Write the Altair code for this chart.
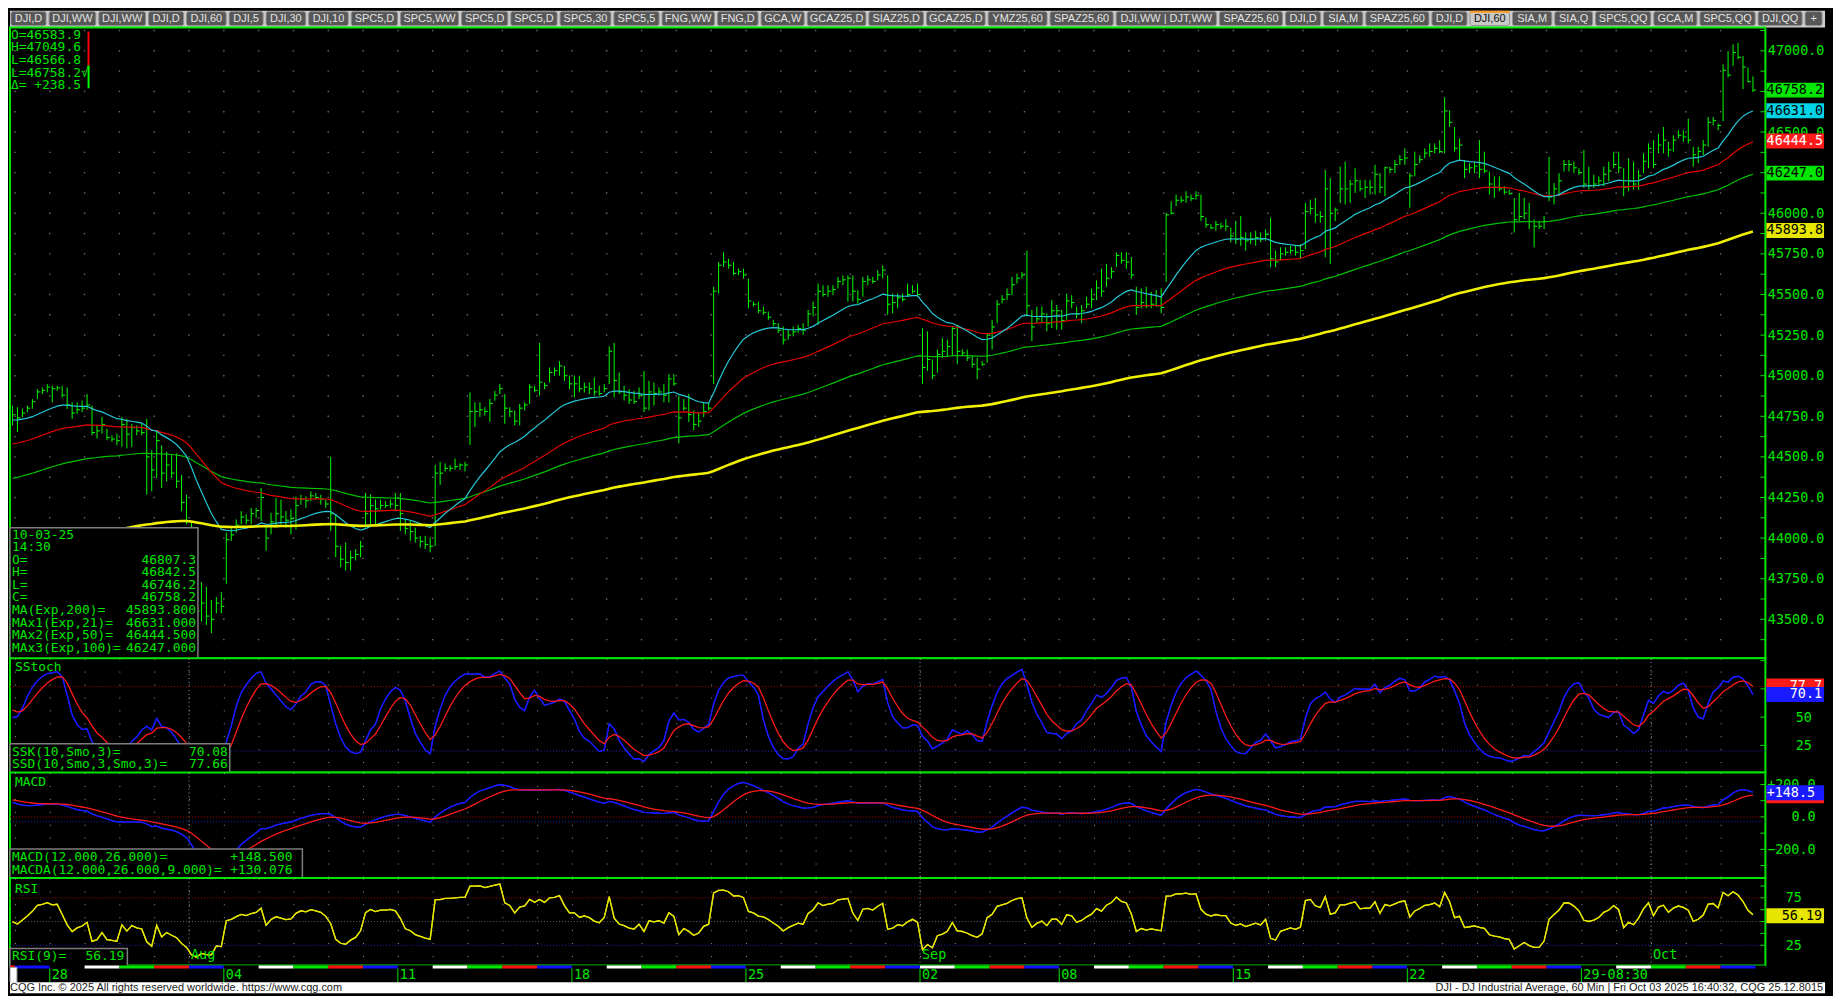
import numpy as np
import pandas as pd
import altair as alt

# ---------------- DJI 60-minute bars (bar 0 = Mon Jul 28 08:30) ----------------
FIRST_BAR = -8
H = [
 44816, 44806, 44796, 44816, 44856, 44917, 44928, 44948,
 44938, 44938, 44938, 44928, 44836, 44836, 44846,
 44887, 44816, 44694, 44745, 44674, 44633, 44643,
 44745, 44734, 44704, 44694, 44704, 44734, 44541,
 44663, 44572, 44531, 44511, 44521, 44389, 44267,
 44100, 43800, 43729, 43700, 43618, 43637, 43669,
 44034, 44064, 44115, 44166, 44146, 44186, 44186,
 44308, 44075, 44156, 44247, 44237, 44166, 44176,
 44257, 44267, 44257, 44288, 44278, 44267, 44237,
 44501, 44146, 43953, 43973, 43922, 43932, 43983,
 44278, 44268, 44237, 44237, 44227, 44237, 44278,
 44278, 44115, 44105, 44064, 44014, 44014, 44004,
 44450, 44470, 44460, 44450, 44490, 44460, 44470,
 44897, 44836, 44836, 44806, 44856, 44907, 44948,
 44887, 44806, 44785, 44826, 44836, 44948, 44938,
 45202, 44958, 45050, 45050, 45090, 45060, 45000,
 45000, 45000, 44958, 44958, 44989, 44938, 44948,
 45181, 45202, 45019, 44938, 44917, 44907, 44928,
 45029, 44968, 44958, 44928, 44948, 45009, 45009,
 44877, 44856, 44887, 44786, 44776, 44836, 44836,
 45547, 45700, 45760, 45720, 45700, 45659, 45659,
 45598, 45456, 45456, 45425, 45395, 45344, 45323,
 45303, 45283, 45303, 45313, 45323, 45405, 45456,
 45567, 45557, 45557, 45557, 45608, 45618, 45618,
 45618, 45527, 45608, 45618, 45608, 45649, 45679,
 45618, 45506, 45506, 45506, 45567, 45557, 45567,
 45293, 45273, 45100, 45161, 45232, 45222, 45303,
 45313, 45161, 45161, 45120, 45110, 45090, 45262,
 45344, 45465, 45496, 45537, 45608, 45628, 45638,
 45770, 45405, 45425, 45425, 45384, 45465, 45435,
 45405, 45506, 45496, 45425, 45435, 45486, 45536,
 45587, 45658, 45689, 45669, 45760, 45760, 45760,
 45730, 45547, 45537, 45547, 45516, 45527, 45537,
 46003, 46074, 46115, 46105, 46135, 46115, 46135,
 46115, 45973, 45932, 45953, 45942, 45963, 45912,
 45953, 45983, 45882, 45882, 45892, 45882, 45902,
 45973, 45770, 45790, 45790, 45800, 45800, 45810,
 46064, 46084, 46094, 46013, 46267, 46216, 46034,
 46287, 46318, 46206, 46277, 46206, 46206, 46206,
 46298, 46247, 46287, 46287, 46328, 46358, 46399,
 46247, 46379, 46358, 46399, 46430, 46430, 46450,
 46714, 46633, 46531, 46460, 46328, 46308, 46318,
 46450, 46379, 46257, 46227, 46227, 46166, 46145,
 46094, 46125, 46094, 46064, 45963, 45952, 45983,
 46348, 46186, 46247, 46328, 46328, 46318, 46277,
 46389, 46287, 46237, 46227, 46287, 46318, 46379,
 46379, 46277, 46338, 46318, 46267, 46369, 46430,
 46450, 46490, 46531, 46440, 46480, 46511, 46511,
 46582, 46409, 46409, 46450, 46592, 46592, 46552,
 46917, 46998, 47040, 47049.6, 46968, 46897, 46842.5,
]
L = [
 44694, 44653, 44745, 44775, 44796, 44856, 44887, 44897,
 44836, 44907, 44866, 44795, 44734, 44765, 44775,
 44790, 44633, 44613, 44643, 44603, 44593, 44572,
 44562, 44552, 44562, 44633, 44633, 44268, 44288,
 44369, 44308, 44349, 44369, 44308, 44166, 44085,
 43700, 43500, 43486, 43466, 43415, 43537, 43537,
 43719, 43983, 44034, 44085, 44085, 44085, 44125,
 44105, 43922, 44024, 44064, 44085, 44064, 44024,
 44054, 44206, 44186, 44227, 44237, 44206, 44186,
 44044, 43882, 43821, 43801, 43801, 43862, 43882,
 44064, 44085, 44075, 44176, 44186, 44186, 44166,
 44044, 44024, 43983, 43973, 43942, 43932, 43912,
 43950, 44328, 44410, 44410, 44420, 44420, 44410,
 44573, 44684, 44745, 44755, 44715, 44846, 44887,
 44704, 44745, 44694, 44694, 44785, 44826, 44897,
 44877, 44917, 44958, 45000, 45000, 44968, 44917,
 44867, 44897, 44897, 44887, 44877, 44877, 44897,
 44948, 44867, 44887, 44847, 44826, 44826, 44856,
 44776, 44786, 44816, 44877, 44836, 44836, 44938,
 44583, 44786, 44715, 44664, 44684, 44745, 44786,
 44948, 45506, 45669, 45659, 45618, 45618, 45598,
 45415, 45425, 45384, 45374, 45344, 45303, 45263,
 45192, 45222, 45242, 45263, 45252, 45303, 45364,
 45313, 45486, 45486, 45496, 45537, 45557, 45456,
 45456, 45445, 45486, 45557, 45567, 45587, 45598,
 45374, 45384, 45415, 45456, 45486, 45506, 45486,
 44948, 45029, 44978, 45019, 45110, 45120, 45120,
 45070, 45120, 45090, 45049, 44978, 45060, 45080,
 45161, 45323, 45445, 45466, 45496, 45567, 45598,
 45364, 45212, 45323, 45323, 45273, 45293, 45283,
 45283, 45344, 45415, 45354, 45323, 45415, 45415,
 45465, 45486, 45547, 45598, 45669, 45689, 45658,
 45597, 45374, 45415, 45415, 45415, 45425, 45384,
 45577, 45993, 46044, 46064, 46064, 46074, 46084,
 45953, 45912, 45902, 45892, 45902, 45892, 45821,
 45810, 45800, 45770, 45810, 45800, 45821, 45831,
 45668, 45668, 45709, 45739, 45750, 45739, 45719,
 45780, 45993, 45942, 45942, 45729, 45689, 45952,
 46064, 46054, 46064, 46125, 46135, 46094, 46115,
 46115, 46125, 46105, 46247, 46247, 46298, 46298,
 46034, 46227, 46308, 46338, 46348, 46369, 46369,
 46369, 46531, 46379, 46328, 46216, 46247, 46247,
 46216, 46247, 46115, 46094, 46135, 46115, 46115,
 45881, 45952, 45963, 45902, 45790, 45902, 45902,
 46074, 46054, 46105, 46257, 46257, 46247, 46237,
 46156, 46145, 46156, 46166, 46166, 46196, 46277,
 46247, 46105, 46135, 46145, 46145, 46247, 46277,
 46277, 46369, 46369, 46348, 46379, 46460, 46440,
 46430, 46287, 46308, 46358, 46409, 46541, 46511,
 46566.8, 46836, 46907, 46948, 46765, 46806, 46746.2,
]
C = [
 44760, 44740, 44770, 44800, 44840, 44900, 44910, 44930,
 44920, 44925, 44880, 44820, 44770, 44790, 44800,
 44820, 44650, 44660, 44700, 44620, 44610, 44600,
 44700, 44640, 44680, 44660, 44650, 44500, 44420,
 44600, 44400, 44450, 44400, 44350, 44220, 44100,
 43750, 43550, 43600, 43520, 43500, 43600, 43580,
 43990, 44020, 44080, 44130, 44110, 44150, 44170,
 44250, 44000, 44100, 44150, 44130, 44110, 44120,
 44200, 44240, 44230, 44260, 44250, 44240, 44210,
 44150, 43950, 43870, 43850, 43880, 43900, 43950,
 44150, 44200, 44180, 44200, 44200, 44210, 44200,
 44150, 44060, 44040, 44000, 43980, 43960, 43950,
 44400, 44400, 44430, 44430, 44440, 44450, 44450,
 44780, 44780, 44790, 44780, 44830, 44880, 44920,
 44800, 44780, 44720, 44800, 44820, 44930, 44910,
 44960, 44940, 45020, 45030, 45060, 45000, 44950,
 44950, 44920, 44930, 44920, 44900, 44890, 44920,
 45150, 44970, 44900, 44880, 44850, 44840, 44880,
 44800, 44900, 44890, 44900, 44880, 44980, 44950,
 44740, 44800, 44760, 44700, 44720, 44780, 44800,
 45520, 45680, 45700, 45680, 45630, 45640, 45620,
 45460, 45440, 45400, 45390, 45360, 45320, 45280,
 45220, 45250, 45270, 45290, 45280, 45380, 45420,
 45520, 45500, 45520, 45530, 45580, 45590, 45600,
 45520, 45470, 45580, 45590, 45580, 45620, 45650,
 45440, 45450, 45480, 45470, 45500, 45520, 45500,
 45050, 45100, 45000, 45130, 45150, 45180, 45290,
 45150, 45140, 45110, 45070, 45040, 45070, 45250,
 45300, 45440, 45470, 45500, 45560, 45600, 45620,
 45430, 45300, 45350, 45380, 45320, 45400, 45400,
 45340, 45460, 45450, 45380, 45400, 45440, 45470,
 45540, 45520, 45600, 45640, 45740, 45710, 45700,
 45620, 45420, 45450, 45430, 45440, 45430, 45420,
 45990, 46000, 46080, 46080, 46100, 46090, 46110,
 45980, 45930, 45910, 45930, 45920, 45920, 45860,
 45840, 45850, 45830, 45840, 45850, 45840, 45870,
 45720, 45700, 45750, 45760, 45770, 45760, 45770,
 46010, 46030, 45990, 45980, 46150, 46000, 46020,
 46150, 46150, 46180, 46200, 46150, 46160, 46160,
 46240, 46160, 46280, 46270, 46300, 46330, 46340,
 46230, 46300, 46330, 46370, 46380, 46400, 46380,
 46630, 46560, 46400, 46420, 46270, 46280, 46290,
 46270, 46260, 46180, 46160, 46150, 46130, 46120,
 45960, 45980, 46000, 45950, 45920, 45920, 45950,
 46100, 46150, 46200, 46300, 46300, 46280, 46250,
 46180, 46170, 46180, 46200, 46240, 46260, 46300,
 46280, 46160, 46200, 46180, 46230, 46320, 46400,
 46300, 46420, 46450, 46390, 46450, 46480, 46470,
 46450, 46360, 46380, 46420, 46560, 46570, 46540,
 46880, 46850, 46990, 46960, 46900, 46810, 46758.2,
]

trading_days = ["07-24", "07-25",
    "07-28", "07-29", "07-30", "07-31", "08-01",
    "08-04", "08-05", "08-06", "08-07", "08-08",
    "08-11", "08-12", "08-13", "08-14", "08-15",
    "08-18", "08-19", "08-20", "08-21", "08-22",
    "08-25", "08-26", "08-27", "08-28", "08-29",
    "09-02", "09-03", "09-04", "09-05",
    "09-08", "09-09", "09-10", "09-11", "09-12",
    "09-15", "09-16", "09-17", "09-18", "09-19",
    "09-22", "09-23", "09-24", "09-25", "09-26",
    "09-29", "09-30", "10-01", "10-02", "10-03"]
BARS_PER_DAY = 7

week_labels = ["28", "04", "11", "18", "25", "02", "08", "15", "22", "29-08:30"]
week_label_days = ["07-28", "08-04", "08-11", "08-18", "08-25", "09-02", "09-08", "09-15", "09-22", "09-29"]
month_labels = ["Aug", "Sep", "Oct"]
month_label_days = ["08-01", "09-02", "10-01"]

# starting values of the studies, read at the chart's left edge
ema_seed = {21: 44724, 50: 44572, 100: 44359, 200: 43870}
macd_seed = {12: 44790, 26: 44690, "signal": 109}
stoch_seed = {"ssk": 47, "ssd": 60}
rsi_seed = {"gain": 25, "loss": 25}

# axis labels (labels hidden behind the value tags in the original are left out)
price_labels = [43500, 43750, 44000, 44250, 44500, 44750, 45000, 45250, 45500, 45750, 46000, 46250, 46500, 46750, 47000]
stoch_labels = [25, 50]
stoch_ticks = [0, 25, 50, 75, 100]
macd_labels = [-200, 0, 200]
macd_ticks = [-300, -200, -100, 0, 100, 200]
rsi_labels = [25, 75]
rsi_ticks = [25, 37.5, 50, 62.5, 75, 87.5]

# last-value tags
price_tag_values = [46758.2, 46631.0, 46444.5, 46247.0, 45893.8]
price_tag_texts = ["46758.2", "46631.0", "46444.5", "46247.0", "45893.8"]
stoch_tag_values = [77.66, 70.08]
stoch_tag_texts = ["77.7", "70.1"]
macd_tag_values = [130.076, 148.5]
macd_tag_texts = ["", "+148.5"]
rsi_tag_values = [56.19]
rsi_tag_texts = ["56.19"]

ohlc_header = ["O=46583.9", "H=47049.6", "L=46566.8", "L=46758.2\u221a", "\u0394= +238.5"]
price_box_left = ["10-03-25", "14:30", "O=", "H=", "L=", "C=", "MA(Exp,200)=", "MAx1(Exp,21)=", "MAx2(Exp,50)=", "MAx3(Exp,100)="]
price_box_right = ["46807.3", "46842.5", "46746.2", "46758.2", "45893.800", "46631.000", "46444.500", "46247.000"]
stoch_box_left = ["SSK(10,Smo,3)=", "SSD(10,Smo,3,Smo,3)="]
stoch_box_right = ["70.08", "77.66"]
macd_box_left = ["MACD(12.000,26.000)=", "MACDA(12.000,26.000,9.000)="]
macd_box_right = ["+148.500", "+130.076"]
rsi_box_left = ["RSI(9)="]
rsi_box_right = ["56.19"]

tab_labels = ["DJI,D", "DJI,WW", "DJI,WW", "DJI,D", "DJI,60", "DJI,5", "DJI,30", "DJI,10", "SPC5,D", "SPC5,WW",
              "SPC5,D", "SPC5,D", "SPC5,30", "SPC5,5", "FNG,WW", "FNG,D", "GCA,W", "GCAZ25,D", "SIAZ25,D", "GCAZ25,D",
              "YMZ25,60", "SPAZ25,60", "DJI,WW  |  DJT,WW", "SPAZ25,60", "DJI,D", "SIA,M", "SPAZ25,60", "DJI,D", "DJI,60",
              "SIA,M", "SIA,Q", "SPC5,QQ", "GCA,M", "SPC5,QQ", "DJI,QQ", "+"]
selected_tab = 28
footer_left = "CQG Inc. \u00a9 2025 All rights reserved worldwide. https://www.cqg.com"
footer_right = "DJI - DJ Industrial Average, 60 Min | Fri Oct 03 2025 16:40:32, CQG 25.12.8015"

# ---------------- studies ----------------
def ema(vals, period, seed):
    a = 2.0 / (period + 1.0)
    out, p = [], float(seed)
    for v in vals:
        p += a * (v - p)
        out.append(p)
    return np.array(out)

def smo(vals, period, seed):
    a = 1.0 / period
    out, p = [], float(seed)
    for v in vals:
        p += a * (v - p)
        out.append(p)
    return np.array(out)

n = len(C)
assert len(H) == n and len(L) == n
cs = np.array(C, dtype=float)
bars = pd.DataFrame({"i": np.arange(FIRST_BAR, FIRST_BAR + n), "H": H, "L": L, "C": C})
bars["i2"] = bars["i"] + 0.6
for p in (21, 50, 100, 200):
    bars[f"ma{p}"] = ema(cs, p, ema_seed[p])

hh = pd.Series(H, dtype=float).rolling(10, min_periods=1).max().values
ll = pd.Series(L, dtype=float).rolling(10, min_periods=1).min().values
fastk = np.where(hh > ll, 100 * (cs - ll) / np.maximum(hh - ll, 1e-9), 50)
bars["ssk"] = smo(fastk, 3, stoch_seed["ssk"])
bars["ssd"] = smo(bars["ssk"].values, 3, stoch_seed["ssd"])
macd = ema(cs, 12, macd_seed[12]) - ema(cs, 26, macd_seed[26])
bars["macd"] = macd
bars["sig"] = ema(macd, 9, macd_seed["signal"])
d = np.diff(cs, prepend=cs[0])
ag = smo(np.clip(d, 0, None), 9, rsi_seed["gain"])
al = smo(np.clip(-d, 0, None), 9, rsi_seed["loss"])
bars["rsi"] = 100 * ag / (ag + al)

day_start = [FIRST_BAR] + [FIRST_BAR + 1 + BARS_PER_DAY * k for k in range(len(trading_days) - 1)]
start_of = dict(zip(trading_days, day_start))
weekday_colors = {"Mon": "#000000", "Tue": "#ffffff", "Wed": "#00e600", "Thu": "#ff1010", "Fri": "#1010ff"}
days = pd.DataFrame({"day": trading_days, "s": day_start})
days["e"] = list(day_start[1:]) + [FIRST_BAR + n]
days["s"] = days["s"] - 0.5
days["e"] = days["e"] - 0.5
days["col"] = [weekday_colors[pd.Timestamp("2025-" + dd).day_name()[:3]] for dd in trading_days]
day_bounds = [s - 0.5 for s in day_start[1:]]
weeks = pd.DataFrame({"lab": week_labels, "x": [start_of[dd] - 0.5 for dd in week_label_days]})
months = pd.DataFrame({"lab": month_labels, "x": [start_of[dd] - 0.5 for dd in month_label_days]})

# ---------------- styling / layout ----------------
TOTAL_W = 1825
PW = 1765
XS = alt.Scale(domain=[-8.5, 344.5], nice=False, zero=False)
GREEN = "#00e600"
BRIGHT = "#00ff00"
GRIDC = "#9a9a9a"
MONO = "DejaVu Sans Mono"
SANS = "Liberation Sans"
one = pd.DataFrame({"k": [0]})
PANEL_VIEW = alt.ViewBackground(fill="#000000", stroke=GREEN, strokeWidth=2)

X_GRID_AXIS = alt.Axis(values=day_bounds, labels=False, ticks=False, domain=False, grid=True,
                       gridColor=GRIDC, gridDash=[1, 12], gridWidth=1, title=None)


def make_x(field, axis):
    return alt.X(f"{field}:Q", scale=XS, axis=axis)


def y_axis(labels, pad, align="left", expr=None, fmt=None):
    kw = dict(orient="right", values=labels, labelColor=GREEN, labelFont=MONO, labelFontSize=13.5,
              labelPadding=pad, labelAlign=align, ticks=False, domain=False, grid=False, title=None,
              labelOverlap=False, labelFlush=False)
    if expr:
        kw["labelExpr"] = expr
    if fmt:
        kw["format"] = fmt
    return alt.Axis(**kw)


def block(lines, x, y, align="left", size=13, lh=13, color=GREEN, font=MONO):
    return alt.Chart(one).mark_text(text=lines, align=align, baseline="top", font=font, fontSize=size,
                                    lineHeight=lh, color=color).encode(x=alt.value(x), y=alt.value(y))


def box(x2, y1, y2):
    return alt.Chart(one).mark_rect(fill="#000000", stroke="#7d7d7d", strokeWidth=1.5).encode(
        x=alt.value(0), x2=alt.value(x2), y=alt.value(y1), y2=alt.value(y2))


class Panel:
    """Helpers that share one x and one y definition so that every layer merges into the same axes."""

    def __init__(self, ys, yax, xax):
        self.ys, self.yax, self.xax = ys, yax, xax

    def y(self, field):
        return alt.Y(f"{field}:Q", scale=self.ys, axis=self.yax)

    def x(self, field="i"):
        return make_x(field, self.xax)

    def line(self, field, color, width=1.3):
        return alt.Chart(bars).mark_line(color=color, strokeWidth=width, clip=True).encode(x=self.x(), y=self.y(field))

    def ticks(self, vals):
        return alt.Chart(pd.DataFrame({"v": vals})).mark_rule(color=GREEN, strokeWidth=1).encode(
            x=alt.value(PW - 5), x2=alt.value(PW), y=self.y("v"))

    def ref(self, v, color):
        return alt.Chart(pd.DataFrame({"v": [v]})).mark_rule(color=color, strokeDash=[1, 2], strokeWidth=1).encode(
            y=self.y("v"))

    def tags(self, vals, texts, fills, tcols, text_x):
        out = []
        for v, t, f, c in zip(vals, texts, fills, tcols):
            dft = pd.DataFrame({"v": [v], "t": [t]})
            out.append(alt.Chart(dft).mark_rule(strokeWidth=15, strokeCap="butt", color=f).encode(
                x=alt.value(PW + 1), x2=alt.value(PW + 59), y=self.y("v")))
            if t:
                out.append(alt.Chart(dft).mark_text(align="right", baseline="middle", font=MONO, fontSize=13.5,
                                                    color=c).encode(x=alt.value(text_x), y=self.y("v"), text="t:N"))
        return out

    def month_rules(self):
        return alt.Chart(months).mark_rule(color=GRIDC, strokeDash=[1, 3], strokeWidth=1).encode(x=self.x("x"))


# ---------------- tab bar ----------------
def tab_text_width(s):
    w = 0.0
    for ch in s:
        if ch in "I,|. ":
            w += 3.0
        elif ch == "J":
            w += 5.5
        elif ch in "WM":
            w += 10.0
        elif ch == "Q":
            w += 8.5
        elif ch.isdigit():
            w += 6.1
        elif ch == "+":
            w += 6.4
        else:
            w += 7.3
    return w

raw_w = [tab_text_width(t) + 12 for t in tab_labels]
gap = 3
fac = (TOTAL_W - 4 - gap * (len(raw_w) - 1)) / sum(raw_w)
x0s, pos = [], 1.0
for w in raw_w:
    x0s.append(pos)
    pos += w * fac + gap
tabs = pd.DataFrame({"t": tab_labels, "x0": x0s, "x1": [a + w * fac for a, w in zip(x0s, raw_w)]})
tabs["xc"] = (tabs["x0"] + tabs["x1"]) / 2
tabs["fill"] = ["#c9c9c9" if k == selected_tab else "#575757" for k in range(len(tabs))]
tabs["tc"] = ["#111111" if k == selected_tab else "#e4e4e4" for k in range(len(tabs))]
TX = alt.Scale(domain=[0, TOTAL_W], nice=False, zero=False)
tab_rects = alt.Chart(tabs).mark_rect(stroke="#8f8f8f", strokeWidth=1, cornerRadius=2).encode(
    x=alt.X("x0:Q", scale=TX, axis=None), x2="x1:Q", y=alt.value(1), y2=alt.value(15),
    color=alt.Color("fill:N", scale=None))
tab_text = alt.Chart(tabs).mark_text(font=SANS, fontSize=11, baseline="middle").encode(
    x=alt.X("xc:Q", scale=TX, axis=None), y=alt.value(8.5), text="t:N", color=alt.Color("tc:N", scale=None))
sel = tabs.iloc[[selected_tab]]
tab_sel = alt.Chart(sel).mark_rule(color="#ff9a1a", strokeWidth=2).encode(
    x=alt.X("x0:Q", scale=TX, axis=None), x2="x1:Q", y=alt.value(1))
tab_panel = alt.layer(tab_rects, tab_sel, tab_text).properties(
    width=TOTAL_W, height=17, view=alt.ViewBackground(fill="#cdcdcd", strokeWidth=0))

# ---------------- price panel ----------------
PH = 634
pp = Panel(alt.Scale(domain=[43261, 47143], nice=False, zero=False), y_axis(price_labels, 2, fmt=".1f"), None)
grid_levels = [43375 + 125 * k for k in range(31)]
grid_df = pd.DataFrame([(gx, gy) for gx in day_bounds for gy in grid_levels], columns=["gx", "gy"])

p_grid = alt.Chart(grid_df).mark_square(size=2, color=GRIDC).encode(x=pp.x("gx"), y=pp.y("gy"))
p_bars = alt.Chart(bars).mark_rule(color=BRIGHT, strokeWidth=1).encode(x=pp.x(), y=pp.y("L"), y2="H:Q")
p_close = alt.Chart(bars).mark_rule(color=BRIGHT, strokeWidth=1).encode(x=pp.x(), x2="i2:Q", y=pp.y("C"))
ma_styles = [("ma100", "#00c000", 1.2), ("ma50", "#e00000", 1.2), ("ma21", "#25c8d8", 1.2), ("ma200", "#f0f000", 2.6)]
p_mas = [pp.line(f, c, w) for f, c, w in ma_styles]
p_tags = pp.tags(price_tag_values, price_tag_texts,
                 ["#00e600", "#00d4e6", "#ff1a1a", "#00e600", "#e6e600"],
                 ["#000000", "#000000", "#ffffff", "#000000", "#000000"], PW + 58)
BOX_LH = 12.6
p_box = box(189, 503, PH + 2)
p_box_l = block(price_box_left, 2, 504, lh=BOX_LH)
p_box_r = block(price_box_right, 187, 504 + 2 * BOX_LH, align="right", lh=BOX_LH)
p_head = block(ohlc_header, 1, 1, lh=12.8)
p_ind_r = alt.Chart(one).mark_rule(color="#ff0000", strokeWidth=2).encode(x=alt.value(79), y=alt.value(4), y2=alt.value(38))
p_ind_g = alt.Chart(one).mark_rule(color=BRIGHT, strokeWidth=2).encode(x=alt.value(79), y=alt.value(38), y2=alt.value(61))
price_panel = alt.layer(p_grid, p_bars, p_close, *p_mas, pp.ticks(grid_levels), *p_tags, p_box, p_box_l, p_box_r,
                        p_head, p_ind_r, p_ind_g).properties(width=PW, height=PH, view=PANEL_VIEW)

# ---------------- stochastic panel ----------------
SH = 115
sp = Panel(alt.Scale(domain=[1.0, 102.2], nice=False, zero=False), y_axis(stoch_labels, 30, fmt="d"), X_GRID_AXIS)
stoch_panel = alt.layer(
    sp.line("ssk", "#1a1aff"), sp.month_rules(), sp.ref(77, "#b00000"), sp.ref(20, "#2020c0"),
    sp.line("ssk", "#1a1aff"), sp.line("ssd", "#ff1a1a"),
    sp.ticks(stoch_ticks),
    *sp.tags(stoch_tag_values, stoch_tag_texts, ["#ff1a1a", "#1a1aff"], ["#ffffff", "#ffffff"], PW + 57),
    block(["SStoch"], 5, 3),
    box(221, 86, SH + 2), block(stoch_box_left, 2, 88, lh=12.5), block(stoch_box_right, 219, 88, align="right", lh=12.5),
).properties(width=PW, height=SH, view=PANEL_VIEW)

# ---------------- MACD panel ----------------
MH = 106
mp = Panel(alt.Scale(domain=[-376, 273.6], nice=False, zero=False),
           y_axis(macd_labels, 50, align="right",
                  expr="datum.value > 0 ? '+' + format(datum.value, '.1f') : format(datum.value, '.1f')"),
           X_GRID_AXIS)
macd_panel = alt.layer(
    mp.line("macd", "#1a1aff"), mp.month_rules(), mp.ref(0, "#b00000"), mp.ref(-30, "#2020c0"),
    mp.line("macd", "#1a1aff"), mp.line("sig", "#ff1a1a"),
    mp.ticks(macd_ticks),
    *mp.tags(macd_tag_values, macd_tag_texts, ["#ff1a1a", "#1a1aff"], ["#ffffff", "#ffffff"], PW + 50),
    block(["MACD"], 5, 4),
    box(294, 77, MH + 2), block(macd_box_left, 2, 79, lh=12.8), block(macd_box_right, 284, 79, align="right", lh=12.8),
).properties(width=PW, height=MH, view=PANEL_VIEW)

# ---------------- RSI panel ----------------
RH = 88
rp = Panel(alt.Scale(domain=[3.7, 96.0], nice=False, zero=False), y_axis(rsi_labels, 20, fmt="d"), X_GRID_AXIS)
r_months = alt.Chart(months).mark_text(align="left", baseline="middle", font=MONO, fontSize=13.5, color=GREEN, dx=2).encode(
    x=rp.x("x"), y=alt.value(78), text="lab:N")
rsi_panel = alt.layer(
    rp.line("rsi", "#e6e600"), rp.month_rules(), rp.ref(75, "#b00000"), rp.ref(50, "#606060"), rp.ref(25, "#2020c0"),
    rp.line("rsi", "#e6e600"),
    rp.ticks(rsi_ticks),
    *rp.tags(rsi_tag_values, rsi_tag_texts, ["#e6e600"], ["#000000"], PW + 57),
    block(["RSI"], 5, 5), r_months,
    box(118, 71, RH + 2), block(rsi_box_left, 2, 73), block(rsi_box_right, 115, 73, align="right"),
).properties(width=PW, height=RH, view=PANEL_VIEW)

# ---------------- date strip ----------------
DH = 17
d_strip = alt.Chart(days).mark_rect().encode(
    x=make_x("s", None), x2="e:Q", y=alt.value(0), y2=alt.value(3), color=alt.Color("col:N", scale=None))
d_ticks = alt.Chart(weeks).mark_rule(color=GREEN, strokeWidth=1).encode(
    x=make_x("x", None), y=alt.value(3), y2=alt.value(DH))
d_text = alt.Chart(weeks).mark_text(align="left", baseline="middle", font=MONO, fontSize=13.5, color=GREEN, dx=2).encode(
    x=make_x("x", None), y=alt.value(10), text="lab:N")
d_scroll = alt.Chart(one).mark_rect(fill="#ffffff", stroke="#9a9a9a").encode(
    x=alt.value(0), x2=alt.value(7), y=alt.value(2), y2=alt.value(DH))
date_panel = alt.layer(d_strip, d_ticks, d_text, d_scroll).properties(
    width=PW, height=DH, view=alt.ViewBackground(fill="#000000", strokeWidth=0))

# ---------------- footer ----------------
FH = 11
f_l = alt.Chart(one).mark_text(text=footer_left, align="left", baseline="middle", font=SANS, fontSize=11,
                               color="#1a1a1a").encode(x=alt.value(0), y=alt.value(5.5))
f_r = alt.Chart(one).mark_text(text=footer_right, align="right", baseline="middle", font=SANS, fontSize=11,
                               color="#1a1a1a").encode(x=alt.value(TOTAL_W - 2), y=alt.value(5.5))
footer = alt.layer(f_l, f_r).properties(width=TOTAL_W, height=FH,
                                        view=alt.ViewBackground(fill="#ffffff", strokeWidth=0))

chart = alt.vconcat(tab_panel, price_panel, stoch_panel, macd_panel, rsi_panel, date_panel, footer,
                    spacing=0, bounds="flush").properties(padding=0, background="#000000")
chart = chart.configure_view(strokeWidth=0)

chart.save("out.html", embed_options={"renderer": "svg", "actions": False})
